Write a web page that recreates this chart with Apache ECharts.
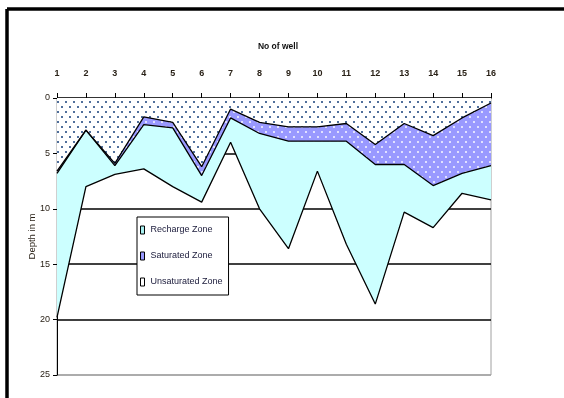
<!DOCTYPE html>
<html>
<head>
<meta charset="utf-8">
<script src="https://cdn.jsdelivr.net/npm/echarts@6/dist/echarts.min.js"></script>
<style>
  html, body { margin: 0; padding: 0; background: #fff; }
  #chart { width: 564px; height: 398px; }
</style>
</head>
<body>
<div id="chart"></div>
<script>
// Well numbers along the top axis
const wells = ['1','2','3','4','5','6','7','8','9','10','11','12','13','14','15','16'];
// Depth (m) of the base of the unsaturated zone (water table)
const unsaturatedBase = [6.6, 2.9, 5.9, 1.7, 2.2, 6.2, 1.0, 2.2, 2.6, 2.6, 2.3, 4.2, 2.3, 3.4, 1.8, 0.45];
// Depth (m) of the base of the saturated zone
const saturatedBase = [6.8, 2.9, 6.1, 2.4, 2.7, 7.0, 1.8, 3.2, 3.9, 3.9, 3.9, 6.0, 6.0, 7.9, 6.8, 6.1];
// Depth (m) of the base of the recharge zone
const rechargeBase = [19.8, 8.0, 6.9, 6.4, 8.0, 9.4, 4.0, 10.0, 13.6, 6.6, 13.2, 18.6, 10.3, 11.7, 8.6, 9.2];
// Depth axis ticks
const depthTicks = [0, 5, 10, 15, 20, 25];

function dotPattern(bg, dot, r) {
  const c = document.createElement('canvas');
  c.width = 8; c.height = 10;
  const g = c.getContext('2d');
  g.fillStyle = bg;
  g.fillRect(0, 0, 8, 10);
  g.fillStyle = dot;
  g.beginPath(); g.arc(2, 2, r, 0, Math.PI * 2); g.fill();
  g.beginPath(); g.arc(6, 7, r, 0, Math.PI * 2); g.fill();
  return { image: c, repeat: 'repeat' };
}

const cyan = '#ccffff';
const purpleDots = dotPattern('#9999ff', '#ffffff', 0.95);
const whiteDots = dotPattern('#ffffff', '#163f7a', 1.0);

const chart = echarts.init(document.getElementById('chart'), null, { renderer: 'canvas' });

const labelFont = 'Liberation Sans, Arial, sans-serif';

function zone(name, data, fill) {
  return {
    name: name,
    type: 'line',
    data: data,
    symbol: 'none',
    smooth: false,
    lineStyle: { color: '#000', width: 1.3 },
    areaStyle: { color: fill, opacity: 1, origin: 'start' },
    emphasis: { disabled: true },
    silent: true
  };
}

chart.setOption({
  animation: false,
  backgroundColor: '#fff',
  title: {
    text: 'No of well',
    left: 273,
    top: 37,
    textAlign: 'center',
    textStyle: { fontSize: 8.5, fontWeight: 'bold', color: '#111', fontFamily: labelFont }
  },
  grid: {
    left: 57, top: 98, width: 434, height: 277,
    show: true, borderColor: '#a0a0a0', borderWidth: 1, backgroundColor: '#fff'
  },
  legend: {
    orient: 'vertical',
    left: 137, top: 217,
    width: 91, height: 76,
    padding: [8, 6, 8, 3],
    itemGap: 16,
    itemWidth: 4,
    itemHeight: 8,
    backgroundColor: '#fff',
    borderColor: '#000',
    borderWidth: 1,
    borderRadius: 0,
    selectedMode: false,
    textStyle: { fontSize: 9, color: '#1a1a3a', fontFamily: labelFont, lineHeight: 10, padding: [0, 0, 0, 1] },
    data: [
      { name: 'Recharge Zone', icon: 'rect', itemStyle: { color: '#a8f0f0', borderColor: '#000', borderWidth: 1 } },
      { name: 'Saturated Zone', icon: 'rect', itemStyle: { color: '#9999ff', borderColor: '#000', borderWidth: 1 } },
      { name: 'Unsaturated Zone', icon: 'rect', itemStyle: { color: '#ffffff', borderColor: '#000', borderWidth: 1 } }
    ]
  },
  xAxis: {
    type: 'category',
    position: 'top',
    data: wells,
    boundaryGap: false,
    axisLine: { lineStyle: { color: '#000', width: 1 } },
    axisTick: { show: true, length: 5, inside: false, lineStyle: { color: '#000' } },
    axisLabel: { margin: 20, fontSize: 9, fontWeight: 'bold', color: '#2a2218', fontFamily: labelFont },
    splitLine: { show: false }
  },
  yAxis: {
    type: 'value',
    inverse: true,
    min: depthTicks[0],
    max: depthTicks[depthTicks.length - 1],
    interval: depthTicks[1] - depthTicks[0],
    name: 'Depth in m',
    nameLocation: 'middle',
    nameGap: 20,
    nameMoveOverlap: false,
    nameTextStyle: { fontSize: 9.5, color: '#2a2218', fontFamily: labelFont },
    axisLine: { show: true, lineStyle: { color: '#000', width: 1 } },
    axisTick: { show: true, length: 4, lineStyle: { color: '#000' } },
    axisLabel: { margin: 7, fontSize: 9, color: '#2a2218', fontFamily: labelFont },
    splitLine: { show: true, lineStyle: { color: ['#000', '#000', '#000', '#000', '#000', '#a0a0a0'], width: 1.5 } }
  },
  graphic: [
    { type: 'line', shape: { x1: 7, y1: 9, x2: 564, y2: 9 }, style: { stroke: '#000', lineWidth: 3.5 } },
    { type: 'line', shape: { x1: 7, y1: 9, x2: 7, y2: 398 }, style: { stroke: '#000', lineWidth: 3.5 } }
  ],
  series: [
    zone('Recharge Zone', rechargeBase, cyan),
    zone('Saturated Zone', saturatedBase, purpleDots),
    zone('Unsaturated Zone', unsaturatedBase, whiteDots)
  ]
});
</script>
</body>
</html>
